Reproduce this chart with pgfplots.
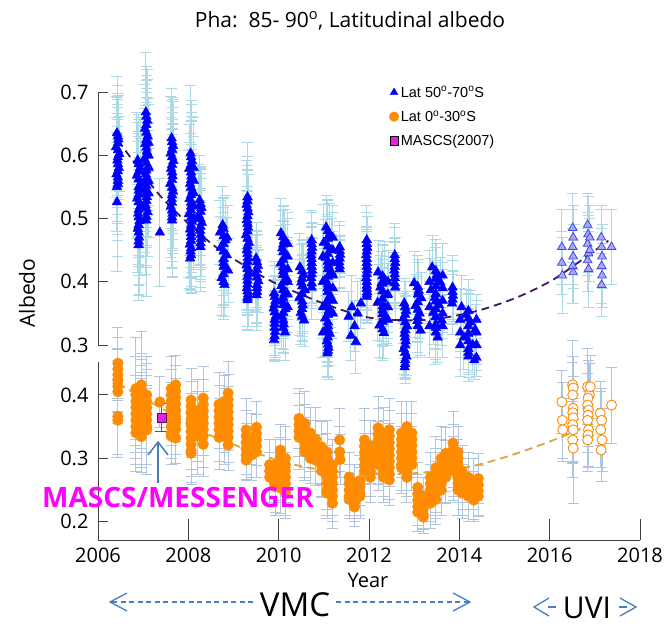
\documentclass[border=0pt]{standalone}
\usepackage{pgfplots}
\pgfplotsset{compat=1.18}
\usepackage{pgfplotstable}
\usepackage{fontspec}
\setmainfont{Open Sans}
\newfontfamily\legfont{Liberation Sans}

\definecolor{errup}{HTML}{ADD8E6}
\definecolor{errlow}{HTML}{B0C4DE}
\definecolor{vorange}{HTML}{FF8C00}
\definecolor{fitup}{HTML}{46195F}
\definecolor{fitlow}{HTML}{D6AA3A}
\definecolor{arrblue}{HTML}{4A7EBB}
\definecolor{uvitri}{HTML}{A8A8F5}
\definecolor{uviedge}{HTML}{4646E6}
\definecolor{axgray}{HTML}{404040}
\definecolor{mascs}{HTML}{E81EE8}
\definecolor{mascserr}{HTML}{8E2A96}
\definecolor{pinktext}{HTML}{FF00FF}

% Lat 50-70S, VMC (x, albedo, error)
\pgfplotstableread{
x y e
2006.42 0.635 0.09
2006.45 0.625 0.07
2006.40 0.613 0.08
2006.47 0.602 0.06
2006.43 0.592 0.10
2006.46 0.580 0.05
2006.41 0.570 0.09
2006.44 0.560 0.12
2006.42 0.550 0.07
2006.42 0.526 0.11
2006.88 0.592 0.06
2006.93 0.580 0.08
2006.86 0.568 0.10
2006.95 0.556 0.07
2006.90 0.544 0.09
2006.87 0.532 0.06
2006.94 0.520 0.11
2006.89 0.508 0.08
2006.92 0.496 0.10
2006.88 0.484 0.07
2006.91 0.470 0.09
2006.90 0.458 0.087
2007.06 0.668 0.094
2007.09 0.655 0.08
2007.04 0.642 0.07
2007.10 0.630 0.09
2007.05 0.618 0.06
2007.08 0.606 0.10
2007.03 0.594 0.08
2007.11 0.582 0.07
2007.06 0.570 0.09
2007.09 0.558 0.06
2007.04 0.546 0.10
2007.08 0.534 0.08
2007.05 0.522 0.11
2007.10 0.510 0.07
2007.07 0.497 0.12
2007.12 0.620 0.07
2007.12 0.600 0.08
2007.12 0.580 0.06
2007.12 0.560 0.09
2007.12 0.540 0.07
2007.37 0.478 0.085
2007.63 0.627 0.079
2007.66 0.615 0.07
2007.61 0.603 0.09
2007.67 0.591 0.06
2007.62 0.579 0.08
2007.65 0.567 0.10
2007.60 0.555 0.07
2007.66 0.543 0.09
2007.63 0.531 0.11
2007.61 0.519 0.08
2007.65 0.508 0.10
2007.64 0.497 0.09
2008.05 0.603 0.108
2008.08 0.591 0.09
2008.02 0.579 0.07
2008.07 0.567 0.10
2008.04 0.555 0.08
2008.09 0.543 0.06
2008.03 0.531 0.09
2008.06 0.519 0.07
2008.01 0.507 0.10
2008.08 0.495 0.08
2008.04 0.483 0.06
2008.06 0.471 0.09
2008.03 0.459 0.07
2008.05 0.448 0.06
2008.04 0.437 0.05
2008.12 0.580 0.08
2008.12 0.560 0.07
2008.12 0.540 0.09
2008.12 0.520 0.06
2008.12 0.500 0.08
2008.25 0.529 0.07
2008.29 0.517 0.06
2008.23 0.505 0.08
2008.30 0.493 0.07
2008.26 0.481 0.09
2008.28 0.468 0.06
2008.27 0.455 0.07
2008.70 0.478 0.05
2008.76 0.490 0.06
2008.82 0.466 0.07
2008.72 0.454 0.05
2008.85 0.442 0.06
2008.78 0.430 0.07
2008.88 0.418 0.05
2008.74 0.406 0.06
2008.80 0.395 0.05
2008.86 0.470 0.05
2009.31 0.534 0.086
2009.29 0.522 0.07
2009.33 0.510 0.06
2009.30 0.498 0.08
2009.32 0.486 0.05
2009.28 0.474 0.07
2009.34 0.462 0.06
2009.30 0.450 0.08
2009.32 0.438 0.05
2009.29 0.426 0.07
2009.33 0.414 0.06
2009.31 0.402 0.05
2009.30 0.390 0.06
2009.32 0.380 0.05
2009.31 0.371 0.048
2009.50 0.437 0.056
2009.54 0.425 0.05
2009.49 0.413 0.06
2009.55 0.401 0.05
2009.52 0.390 0.06
2009.51 0.379 0.056
2010.05 0.477 0.055
2010.12 0.465 0.05
2010.08 0.453 0.06
2010.16 0.441 0.05
2010.04 0.429 0.06
2010.10 0.417 0.05
2010.18 0.405 0.06
2010.06 0.393 0.05
2010.13 0.381 0.06
2010.09 0.369 0.05
2010.15 0.357 0.04
2010.07 0.345 0.05
2010.11 0.333 0.04
2010.14 0.320 0.044
2010.20 0.460 0.05
2010.20 0.440 0.06
2010.20 0.420 0.05
2010.20 0.400 0.06
2010.20 0.380 0.05
2010.20 0.360 0.04
2009.90 0.382 0.05
2009.93 0.370 0.04
2009.89 0.358 0.05
2009.94 0.346 0.04
2009.91 0.334 0.05
2009.92 0.321 0.04
2009.90 0.308 0.032
2010.47 0.423 0.054
2010.55 0.411 0.05
2010.50 0.399 0.06
2010.58 0.387 0.05
2010.46 0.375 0.06
2010.53 0.363 0.05
2010.49 0.351 0.05
2010.56 0.339 0.042
2010.73 0.466 0.047
2010.74 0.454 0.04
2010.72 0.442 0.05
2010.73 0.430 0.04
2010.74 0.418 0.05
2010.72 0.406 0.04
2010.73 0.391 0.05
2011.05 0.486 0.051
2011.12 0.474 0.05
2011.00 0.462 0.06
2011.16 0.450 0.05
2011.04 0.438 0.06
2011.10 0.426 0.05
2011.18 0.414 0.06
2011.02 0.402 0.05
2011.08 0.390 0.06
2011.14 0.378 0.05
2011.06 0.366 0.06
2011.11 0.354 0.05
2011.03 0.342 0.06
2011.09 0.330 0.05
2011.13 0.318 0.05
2011.07 0.306 0.04
2011.10 0.296 0.05
2011.08 0.287 0.038
2011.20 0.470 0.05
2011.20 0.450 0.06
2011.20 0.430 0.05
2011.20 0.410 0.06
2011.20 0.390 0.05
2011.20 0.370 0.05
2011.20 0.350 0.04
2010.98 0.440 0.05
2010.98 0.400 0.06
2010.98 0.360 0.05
2010.98 0.320 0.04
2011.35 0.455 0.04
2011.36 0.443 0.03
2011.34 0.431 0.04
2011.35 0.420 0.03
2011.55 0.345 0.04
2011.62 0.360 0.05
2011.68 0.330 0.04
2011.75 0.350 0.05
2011.82 0.366 0.04
2011.60 0.315 0.04
2011.71 0.305 0.05
2011.95 0.466 0.055
2011.96 0.454 0.05
2011.94 0.442 0.04
2011.95 0.430 0.05
2011.96 0.418 0.04
2011.94 0.406 0.05
2011.95 0.394 0.04
2011.96 0.384 0.05
2011.95 0.376 0.04
2012.20 0.415 0.05
2012.35 0.403 0.06
2012.25 0.391 0.05
2012.40 0.379 0.05
2012.19 0.367 0.06
2012.30 0.355 0.05
2012.38 0.343 0.04
2012.23 0.331 0.05
2012.33 0.319 0.04
2012.28 0.398 0.05
2012.36 0.360 0.05
2012.42 0.400 0.05
2012.42 0.380 0.06
2012.42 0.360 0.05
2012.42 0.340 0.04
2012.57 0.442 0.05
2012.58 0.430 0.04
2012.56 0.418 0.05
2012.57 0.406 0.04
2012.58 0.391 0.05
2012.78 0.366 0.04
2012.82 0.354 0.03
2012.76 0.342 0.04
2012.84 0.330 0.03
2012.79 0.318 0.04
2012.81 0.306 0.03
2012.77 0.294 0.04
2012.83 0.282 0.03
2012.80 0.270 0.03
2012.79 0.265 0.018
2013.00 0.398 0.05
2013.10 0.386 0.05
2013.16 0.374 0.04
2013.03 0.362 0.05
2013.12 0.350 0.04
2013.07 0.338 0.05
2013.14 0.323 0.04
2013.40 0.423 0.05
2013.50 0.411 0.05
2013.58 0.399 0.04
2013.37 0.387 0.05
2013.46 0.375 0.05
2013.55 0.363 0.04
2013.42 0.351 0.05
2013.61 0.339 0.04
2013.48 0.327 0.05
2013.52 0.312 0.04
2013.63 0.410 0.05
2013.63 0.390 0.04
2013.63 0.370 0.05
2013.63 0.350 0.04
2013.63 0.330 0.05
2013.34 0.400 0.05
2013.34 0.360 0.04
2013.34 0.330 0.05
2013.85 0.391 0.05
2013.86 0.378 0.04
2013.84 0.366 0.05
2014.05 0.360 0.05
2014.15 0.348 0.04
2014.25 0.336 0.05
2014.35 0.324 0.04
2014.10 0.312 0.05
2014.30 0.300 0.04
2014.20 0.288 0.04
2014.33 0.276 0.03
2014.38 0.340 0.04
2014.38 0.320 0.05
2014.38 0.300 0.04
2014.38 0.280 0.03
2014.02 0.340 0.05
2014.02 0.320 0.04
2014.02 0.300 0.05
}\upvmc

% Lat 50-70S, VMC, further orbits inside the same clusters
\pgfplotstableread{
x y e
2006.44 0.630 0.08
2006.44 0.619 0.07
2006.44 0.608 0.09
2006.44 0.597 0.06
2006.44 0.586 0.08
2006.44 0.575 0.10
2006.44 0.565 0.07
2006.44 0.555 0.09
2006.90 0.586 0.07
2006.90 0.574 0.09
2006.90 0.562 0.06
2006.90 0.550 0.08
2006.90 0.538 0.10
2006.90 0.526 0.07
2006.90 0.514 0.09
2006.90 0.502 0.06
2006.90 0.490 0.08
2006.90 0.478 0.10
2006.90 0.464 0.07
2007.07 0.661 0.08
2007.07 0.648 0.07
2007.07 0.636 0.09
2007.07 0.624 0.06
2007.07 0.612 0.08
2007.07 0.600 0.10
2007.07 0.588 0.07
2007.07 0.576 0.09
2007.07 0.564 0.06
2007.07 0.552 0.08
2007.07 0.540 0.10
2007.07 0.528 0.07
2007.07 0.516 0.09
2007.07 0.503 0.08
2007.64 0.621 0.07
2007.64 0.609 0.08
2007.64 0.597 0.06
2007.64 0.585 0.09
2007.64 0.573 0.07
2007.64 0.561 0.08
2007.64 0.549 0.10
2007.64 0.537 0.06
2007.64 0.525 0.08
2007.64 0.513 0.09
2007.64 0.502 0.07
2008.06 0.597 0.09
2008.06 0.585 0.07
2008.06 0.573 0.08
2008.06 0.561 0.10
2008.06 0.549 0.06
2008.06 0.537 0.08
2008.06 0.525 0.07
2008.06 0.513 0.09
2008.06 0.501 0.06
2008.06 0.489 0.08
2008.06 0.477 0.07
2008.06 0.465 0.06
2008.06 0.453 0.07
2008.06 0.442 0.05
2008.27 0.523 0.06
2008.27 0.511 0.07
2008.27 0.499 0.08
2008.27 0.487 0.06
2008.27 0.474 0.07
2008.27 0.461 0.06
2008.78 0.484 0.05
2008.78 0.472 0.06
2008.78 0.460 0.05
2008.78 0.448 0.07
2008.78 0.436 0.05
2008.78 0.424 0.06
2008.78 0.412 0.05
2008.78 0.400 0.06
2009.31 0.528 0.07
2009.31 0.516 0.06
2009.31 0.504 0.08
2009.31 0.492 0.05
2009.31 0.480 0.07
2009.31 0.468 0.06
2009.31 0.456 0.05
2009.31 0.444 0.07
2009.31 0.432 0.06
2009.31 0.420 0.05
2009.31 0.408 0.06
2009.31 0.396 0.05
2009.31 0.385 0.06
2009.31 0.375 0.05
2009.52 0.431 0.05
2009.52 0.419 0.06
2009.52 0.407 0.05
2009.52 0.395 0.06
2009.52 0.384 0.05
2010.10 0.471 0.05
2010.10 0.459 0.06
2010.10 0.447 0.05
2010.10 0.435 0.06
2010.10 0.423 0.05
2010.10 0.411 0.06
2010.10 0.399 0.05
2010.10 0.387 0.06
2010.10 0.375 0.05
2010.10 0.363 0.05
2010.10 0.351 0.04
2010.10 0.339 0.05
2010.10 0.327 0.04
2009.91 0.376 0.05
2009.91 0.364 0.04
2009.91 0.352 0.05
2009.91 0.340 0.04
2009.91 0.327 0.05
2009.91 0.314 0.04
2010.52 0.417 0.05
2010.52 0.405 0.06
2010.52 0.393 0.05
2010.52 0.381 0.06
2010.52 0.369 0.05
2010.52 0.357 0.05
2010.52 0.345 0.04
2010.73 0.460 0.05
2010.73 0.448 0.04
2010.73 0.436 0.05
2010.73 0.424 0.04
2010.73 0.412 0.05
2010.73 0.398 0.04
2011.09 0.480 0.05
2011.09 0.468 0.06
2011.09 0.456 0.05
2011.09 0.444 0.06
2011.09 0.432 0.05
2011.09 0.420 0.06
2011.09 0.408 0.05
2011.09 0.396 0.06
2011.09 0.384 0.05
2011.09 0.372 0.06
2011.09 0.360 0.05
2011.09 0.348 0.06
2011.09 0.336 0.05
2011.09 0.324 0.05
2011.09 0.312 0.04
2011.09 0.301 0.05
2011.09 0.291 0.04
2011.35 0.449 0.04
2011.35 0.437 0.03
2011.35 0.425 0.04
2011.95 0.460 0.05
2011.95 0.448 0.04
2011.95 0.436 0.05
2011.95 0.424 0.04
2011.95 0.412 0.05
2011.95 0.400 0.04
2011.95 0.389 0.05
2011.95 0.380 0.04
2012.30 0.409 0.05
2012.30 0.397 0.06
2012.30 0.385 0.05
2012.30 0.373 0.05
2012.30 0.361 0.06
2012.30 0.349 0.05
2012.30 0.337 0.04
2012.30 0.325 0.05
2012.57 0.436 0.05
2012.57 0.424 0.04
2012.57 0.412 0.05
2012.57 0.398 0.04
2012.80 0.360 0.04
2012.80 0.348 0.03
2012.80 0.336 0.04
2012.80 0.324 0.03
2012.80 0.312 0.04
2012.80 0.300 0.03
2012.80 0.288 0.04
2012.80 0.276 0.03
2013.08 0.392 0.05
2013.08 0.380 0.05
2013.08 0.368 0.04
2013.08 0.356 0.05
2013.08 0.344 0.04
2013.08 0.330 0.05
2013.48 0.417 0.05
2013.48 0.405 0.05
2013.48 0.393 0.04
2013.48 0.381 0.05
2013.48 0.369 0.05
2013.48 0.357 0.04
2013.48 0.345 0.05
2013.48 0.333 0.04
2013.48 0.320 0.05
2013.85 0.384 0.05
2013.85 0.372 0.04
2014.20 0.354 0.05
2014.20 0.342 0.04
2014.20 0.330 0.05
2014.20 0.318 0.04
2014.20 0.306 0.05
2014.20 0.294 0.04
2014.20 0.282 0.04
}\upvmcb

% Lat 50-70S, UVI
\pgfplotstableread{
x y e
2016.27 0.455 0.06
2016.27 0.430 0.05
2016.28 0.410 0.06
2016.51 0.485 0.055
2016.52 0.470 0.05
2016.51 0.455 0.06
2016.52 0.440 0.05
2016.51 0.425 0.06
2016.52 0.415 0.05
2016.84 0.490 0.05
2016.85 0.475 0.06
2016.84 0.460 0.05
2016.86 0.445 0.06
2016.84 0.434 0.05
2016.86 0.420 0.06
2016.89 0.470 0.05
2016.89 0.450 0.05
2017.14 0.470 0.05
2017.15 0.455 0.06
2017.16 0.440 0.05
2017.15 0.425 0.06
2017.16 0.410 0.05
2017.15 0.395 0.05
2017.37 0.455 0.06
}\upuvi

% Lat 0-30S, VMC
\pgfplotstableread{
x y e
2006.44 0.450 0.056
2006.44 0.441 0.05
2006.44 0.432 0.04
2006.44 0.423 0.05
2006.44 0.414 0.04
2006.44 0.405 0.05
2006.44 0.366 0.06
2006.44 0.360 0.058
2006.84 0.410 0.08
2006.84 0.400 0.06
2006.84 0.390 0.07
2006.84 0.380 0.05
2006.84 0.370 0.06
2006.84 0.360 0.07
2006.84 0.350 0.05
2006.84 0.340 0.06
2006.96 0.416 0.084
2006.96 0.406 0.06
2006.96 0.396 0.05
2006.96 0.386 0.07
2006.96 0.376 0.06
2006.96 0.366 0.05
2006.96 0.356 0.07
2006.96 0.346 0.06
2006.96 0.334 0.057
2007.08 0.400 0.06
2007.08 0.390 0.05
2007.08 0.380 0.07
2007.08 0.370 0.06
2007.08 0.360 0.05
2007.08 0.350 0.06
2007.08 0.345 0.07
2007.37 0.389 0.04
2007.62 0.410 0.05
2007.62 0.400 0.04
2007.62 0.390 0.05
2007.62 0.380 0.04
2007.62 0.370 0.05
2007.62 0.360 0.04
2007.62 0.350 0.05
2007.62 0.340 0.04
2007.62 0.335 0.045
2007.72 0.416 0.047
2007.72 0.406 0.04
2007.72 0.396 0.05
2007.72 0.386 0.04
2007.72 0.376 0.05
2007.72 0.366 0.04
2007.72 0.356 0.05
2007.72 0.346 0.04
2007.72 0.332 0.04
2008.06 0.392 0.05
2008.06 0.382 0.06
2008.06 0.372 0.05
2008.06 0.362 0.06
2008.06 0.352 0.05
2008.06 0.342 0.06
2008.06 0.332 0.05
2008.06 0.322 0.05
2008.06 0.312 0.05
2008.06 0.308 0.05
2008.20 0.375 0.05
2008.20 0.365 0.06
2008.20 0.355 0.05
2008.20 0.345 0.05
2008.20 0.335 0.06
2008.33 0.395 0.05
2008.33 0.385 0.06
2008.33 0.375 0.05
2008.33 0.365 0.06
2008.33 0.355 0.05
2008.33 0.345 0.06
2008.33 0.335 0.05
2008.33 0.322 0.05
2008.68 0.385 0.05
2008.68 0.375 0.04
2008.68 0.365 0.05
2008.68 0.355 0.04
2008.68 0.345 0.05
2008.68 0.333 0.05
2008.80 0.390 0.04
2008.80 0.380 0.05
2008.80 0.370 0.04
2008.80 0.360 0.05
2008.80 0.350 0.04
2008.80 0.340 0.05
2008.88 0.403 0.05
2008.88 0.393 0.04
2008.88 0.383 0.05
2008.88 0.373 0.04
2008.88 0.363 0.05
2008.88 0.353 0.04
2008.88 0.343 0.05
2008.88 0.333 0.04
2008.88 0.321 0.04
2009.28 0.345 0.05
2009.28 0.335 0.04
2009.28 0.325 0.05
2009.28 0.315 0.04
2009.28 0.305 0.04
2009.28 0.297 0.03
2009.40 0.330 0.04
2009.40 0.320 0.05
2009.40 0.310 0.04
2009.40 0.305 0.04
2009.51 0.349 0.04
2009.51 0.339 0.05
2009.51 0.329 0.04
2009.51 0.319 0.05
2009.51 0.310 0.04
2009.80 0.290 0.04
2009.80 0.280 0.05
2009.80 0.270 0.04
2009.92 0.290 0.04
2009.92 0.280 0.05
2009.92 0.270 0.04
2009.92 0.260 0.05
2009.92 0.255 0.04
2010.04 0.313 0.04
2010.04 0.303 0.05
2010.04 0.293 0.04
2010.04 0.283 0.05
2010.04 0.273 0.04
2010.04 0.263 0.05
2010.04 0.253 0.04
2010.15 0.300 0.05
2010.15 0.290 0.04
2010.15 0.280 0.05
2010.15 0.270 0.04
2010.15 0.260 0.05
2010.15 0.250 0.04
2010.15 0.245 0.04
2010.45 0.363 0.048
2010.45 0.353 0.05
2010.45 0.343 0.04
2010.45 0.333 0.05
2010.58 0.355 0.05
2010.58 0.345 0.04
2010.58 0.335 0.05
2010.58 0.325 0.04
2010.58 0.315 0.05
2010.58 0.310 0.04
2010.70 0.340 0.04
2010.70 0.330 0.05
2010.70 0.320 0.04
2010.70 0.310 0.05
2010.70 0.300 0.04
2010.82 0.330 0.05
2010.82 0.320 0.04
2010.82 0.310 0.05
2010.82 0.297 0.04
2010.95 0.318 0.04
2010.95 0.308 0.05
2010.95 0.298 0.04
2010.95 0.288 0.05
2010.95 0.280 0.04
2011.07 0.310 0.05
2011.07 0.300 0.04
2011.07 0.290 0.05
2011.07 0.280 0.04
2011.07 0.270 0.05
2011.07 0.260 0.04
2011.07 0.250 0.04
2011.07 0.245 0.04
2011.19 0.290 0.04
2011.19 0.280 0.05
2011.19 0.270 0.04
2011.19 0.260 0.05
2011.19 0.250 0.04
2011.19 0.240 0.04
2011.19 0.229 0.04
2011.35 0.329 0.05
2011.35 0.310 0.04
2011.36 0.298 0.04
2011.56 0.270 0.04
2011.56 0.260 0.03
2011.56 0.250 0.04
2011.56 0.240 0.03
2011.56 0.235 0.03
2011.68 0.260 0.03
2011.68 0.250 0.04
2011.68 0.240 0.03
2011.68 0.230 0.03
2011.68 0.223 0.03
2011.80 0.265 0.04
2011.80 0.255 0.03
2011.80 0.245 0.04
2011.80 0.240 0.03
2011.90 0.329 0.05
2011.90 0.319 0.04
2011.90 0.309 0.05
2011.90 0.299 0.04
2011.90 0.289 0.05
2011.90 0.280 0.04
2012.03 0.320 0.04
2012.03 0.310 0.05
2012.03 0.300 0.04
2012.03 0.290 0.05
2012.03 0.280 0.04
2012.03 0.270 0.04
2012.20 0.348 0.05
2012.20 0.338 0.04
2012.20 0.328 0.05
2012.20 0.318 0.04
2012.20 0.308 0.05
2012.20 0.298 0.04
2012.20 0.290 0.04
2012.32 0.340 0.04
2012.32 0.330 0.05
2012.32 0.320 0.04
2012.32 0.310 0.05
2012.32 0.300 0.04
2012.32 0.290 0.05
2012.32 0.280 0.04
2012.32 0.270 0.04
2012.45 0.345 0.05
2012.45 0.335 0.04
2012.45 0.325 0.05
2012.45 0.315 0.04
2012.45 0.305 0.05
2012.45 0.295 0.04
2012.45 0.285 0.05
2012.45 0.275 0.04
2012.45 0.266 0.04
2012.72 0.340 0.05
2012.72 0.330 0.04
2012.72 0.320 0.05
2012.72 0.310 0.04
2012.72 0.300 0.05
2012.72 0.290 0.04
2012.72 0.285 0.04
2012.84 0.350 0.04
2012.84 0.340 0.05
2012.84 0.330 0.04
2012.84 0.320 0.05
2012.84 0.310 0.04
2012.84 0.300 0.05
2012.84 0.290 0.04
2012.84 0.280 0.04
2012.84 0.270 0.04
2012.95 0.340 0.05
2012.95 0.330 0.04
2012.95 0.320 0.05
2012.95 0.310 0.04
2012.95 0.300 0.05
2012.95 0.290 0.04
2013.08 0.254 0.04
2013.08 0.244 0.03
2013.08 0.234 0.04
2013.08 0.224 0.03
2013.08 0.215 0.03
2013.20 0.240 0.03
2013.20 0.230 0.04
2013.20 0.220 0.03
2013.20 0.212 0.03
2013.20 0.207 0.02
2013.36 0.270 0.04
2013.36 0.260 0.05
2013.36 0.250 0.04
2013.36 0.240 0.04
2013.36 0.229 0.04
2013.48 0.285 0.05
2013.48 0.275 0.04
2013.48 0.265 0.05
2013.48 0.255 0.04
2013.48 0.245 0.04
2013.48 0.235 0.04
2013.60 0.300 0.05
2013.60 0.290 0.04
2013.60 0.280 0.05
2013.60 0.270 0.04
2013.60 0.260 0.05
2013.60 0.250 0.04
2013.70 0.308 0.04
2013.70 0.298 0.05
2013.70 0.288 0.04
2013.70 0.278 0.05
2013.70 0.270 0.04
2013.86 0.324 0.05
2013.86 0.314 0.04
2013.86 0.304 0.05
2013.86 0.294 0.04
2013.86 0.284 0.05
2013.86 0.280 0.04
2013.97 0.310 0.04
2013.97 0.300 0.05
2013.97 0.290 0.04
2013.97 0.280 0.05
2013.97 0.270 0.04
2013.97 0.260 0.05
2013.97 0.250 0.04
2014.06 0.280 0.04
2014.06 0.270 0.05
2014.06 0.260 0.04
2014.06 0.250 0.04
2014.06 0.245 0.04
2014.20 0.270 0.04
2014.20 0.260 0.04
2014.20 0.250 0.03
2014.20 0.240 0.04
2014.32 0.260 0.04
2014.32 0.250 0.03
2014.32 0.240 0.04
2014.32 0.234 0.03
2014.42 0.268 0.04
2014.42 0.258 0.03
2014.42 0.248 0.04
2014.42 0.240 0.03
}\lowvmc

% Lat 0-30S, UVI
\pgfplotstableread{
x y e
2016.27 0.389 0.05
2016.28 0.360 0.06
2016.29 0.345 0.05
2016.51 0.416 0.07
2016.52 0.411 0.05
2016.51 0.400 0.06
2016.52 0.379 0.05
2016.51 0.372 0.08
2016.52 0.364 0.05
2016.51 0.353 0.06
2016.52 0.345 0.05
2016.51 0.329 0.06
2016.52 0.316 0.087
2016.84 0.413 0.06
2016.88 0.400 0.05
2016.85 0.395 0.06
2016.84 0.384 0.05
2016.86 0.376 0.04
2016.85 0.368 0.05
2016.84 0.360 0.05
2016.86 0.345 0.06
2016.85 0.337 0.05
2016.84 0.329 0.05
2016.90 0.413 0.05
2017.12 0.371 0.05
2017.15 0.360 0.05
2017.13 0.345 0.06
2017.16 0.329 0.05
2017.14 0.313 0.05
2017.37 0.384 0.06
}\lowuvi

\begin{document}
\begin{tikzpicture}
\useasboundingbox (0,0) rectangle (667pt,-624pt);

\pgfplotsset{
  panel/.style={
    scale only axis, width=542pt, anchor=south west,
    xmin=2006, xmax=2018, clip=false,
    axis y line*=left, tick align=inside,
    axis line style={axgray, line width=1pt},
    tick style={axgray, line width=1pt},
    major tick length=10pt,
    ticklabel style={font=\fontsize{20}{20}\selectfont},
    /pgf/number format/assume math mode=true,
    /pgf/number format/1000 sep={},
    yticklabel style={/pgf/number format/fixed, /pgf/number format/precision=1, xshift=-6pt},
  },
  errs/.style={forget plot, only marks, mark=none,
    error bars/.cd, y dir=both, y explicit,
    error bar style={#1, line width=0.9pt},
    error mark options={#1, rotate=90, mark size=5.5pt, line width=0.9pt}},
}

% upper panel: Lat 50-70S
\begin{axis}[panel, at={(98pt,-345pt)}, height=253pt,
  ymin=0.3, ymax=0.7, hide x axis,
  ytick={0.3,0.4,0.5,0.6,0.7},
  legend style={draw=none, fill=none, at={(axis description cs:0.537,1.031)}, anchor=north west,
    font=\legfont\fontsize{14.5}{14.5}\selectfont, row sep=8pt, inner sep=0pt, cells={anchor=west}},
  legend image code/.code={\draw[#1] plot coordinates {(3pt,0pt)};},
]
\addplot[errs=errup] table[x=x, y=y, y error=e]{\upvmc};
\addplot[errs=errup] table[x=x, y=y, y error=e]{\upvmcb};
\addplot[errs=errup] table[x=x, y=y, y error=e]{\upuvi};
\addplot[forget plot, only marks, mark=triangle*, mark size=5.6pt, color=blue] table[x=x, y=y]{\upvmc};
\addplot[forget plot, only marks, mark=triangle*, mark size=5.6pt, color=blue] table[x=x, y=y]{\upvmcb};
\addplot[forget plot, only marks, mark=triangle*, mark size=5pt,
  mark options={draw=uviedge, fill=uvitri, line width=0.8pt}] table[x=x, y=y]{\upuvi};
\addplot[forget plot, fitup, line width=1.8pt, dash pattern=on 8pt off 5pt, smooth, no marks] coordinates {
(2006.44,0.624) (2007.40,0.534) (2008.50,0.461) (2009.30,0.423) (2009.92,0.398)
(2010.98,0.366) (2011.95,0.344) (2012.84,0.339) (2013.57,0.342) (2014.45,0.355)
(2015.30,0.376) (2016.07,0.403) (2016.82,0.440) (2017.30,0.465)};
\addlegendimage{only marks, mark=triangle*, mark size=4.5pt, color=blue}
\addlegendentry{Lat 50\textsuperscript{o}-70\textsuperscript{o}S}
\addlegendimage{only marks, mark=*, mark size=4.8pt, color=vorange}
\addlegendentry{Lat 0\textsuperscript{o}-30\textsuperscript{o}S}
\addlegendimage{only marks, mark=square*, mark size=4.3pt, mark options={fill=mascs, draw=black}}
\addlegendentry{MASCS(2007)}
\end{axis}

% lower panel: Lat 0-30S
\begin{axis}[panel, at={(98pt,-540pt)}, height=178pt,
  ymin=0.171, ymax=0.452,
  axis x line*=bottom,
  xtick={2006,2008,2010,2012,2014,2016,2018},
  ytick={0.2,0.3,0.4},
  xtick style={/pgfplots/major tick length=21pt},
  xticklabel style={yshift=-4pt},
]
\addplot[errs=errlow] table[x=x, y=y, y error=e]{\lowvmc};
\addplot[errs=errlow] table[x=x, y=y, y error=e]{\lowuvi};
\addplot[forget plot, only marks, mark=*, mark size=5.3pt, color=vorange] table[x=x, y=y]{\lowvmc};
\addplot[forget plot, only marks, mark=*, mark size=5pt,
  mark options={draw=vorange, fill=white, line width=0.9pt}] table[x=x, y=y]{\lowuvi};
\addplot[forget plot, only marks, mark=square*, mark size=4.5pt,
  mark options={fill=mascs, draw={rgb,255:red,80;green,20;blue,80}, line width=0.8pt},
  error bars/.cd, y dir=both, y explicit,
  error bar style={mascserr, line width=1.2pt},
  error mark options={mascserr, rotate=90, mark size=7pt, line width=1.2pt}]
  coordinates {(2007.41,0.364) +- (0,0.022)};
\addplot[forget plot, fitlow, line width=1.8pt, dash pattern=on 8pt off 5pt, smooth, no marks] coordinates {
(2006.44,0.418) (2007.50,0.375) (2008.37,0.340) (2009.76,0.302) (2010.60,0.286)
(2011.50,0.277) (2012.40,0.275) (2013.30,0.278) (2014.30,0.288) (2015.20,0.306)
(2016.20,0.332) (2017.30,0.365)};
\end{axis}

% texts and annotations
\node[font=\fontsize{21}{21}\selectfont, anchor=base] at (350pt,-27pt) {Pha:\ \ 85- 90\textsuperscript{o}, Latitudinal albedo};
\node[rotate=90, font=\fontsize{21}{21}\selectfont] at (27pt,-293pt) {Albedo};
\node[font=\fontsize{20}{20}\selectfont, anchor=base] at (368pt,-587pt) {Year};
\node[text=pinktext, font=\bfseries\fontsize{28}{28}\selectfont] at (178pt,-497pt) {MASCS/MESSENGER};
\draw[arrblue, line width=1.5pt] (158pt,-483pt) -- (158pt,-442pt);
\draw[arrblue, line width=1.5pt] (148pt,-455pt) -- (158pt,-442pt) -- (168pt,-455pt);

\draw[arrblue, line width=1.3pt, dash pattern=on 5pt off 3.5pt] (112pt,-602pt) -- (254pt,-602pt);
\draw[arrblue, line width=1.3pt, dash pattern=on 5pt off 3.5pt] (336pt,-602pt) -- (468pt,-602pt);
\draw[arrblue, line width=1.3pt] (127pt,-593pt) -- (110pt,-602pt) -- (127pt,-611pt);
\draw[arrblue, line width=1.3pt] (453pt,-593pt) -- (470pt,-602pt) -- (453pt,-611pt);
\node[font=\fontsize{33}{33}\selectfont, anchor=base] at (295pt,-616pt) {VMC};

\draw[arrblue, line width=1.3pt] (549pt,-598pt) -- (534pt,-607pt) -- (549pt,-616pt);
\draw[arrblue, line width=1.3pt] (548pt,-607pt) -- (556pt,-607pt);
\draw[arrblue, line width=1.3pt] (620pt,-598pt) -- (636pt,-607pt) -- (620pt,-616pt);
\draw[arrblue, line width=1.3pt] (619pt,-607pt) -- (627pt,-607pt);
\node[font=\fontsize{30}{30}\selectfont, anchor=base, inner sep=0pt] at (587pt,-618pt) {UVI};
\end{tikzpicture}
\end{document}
